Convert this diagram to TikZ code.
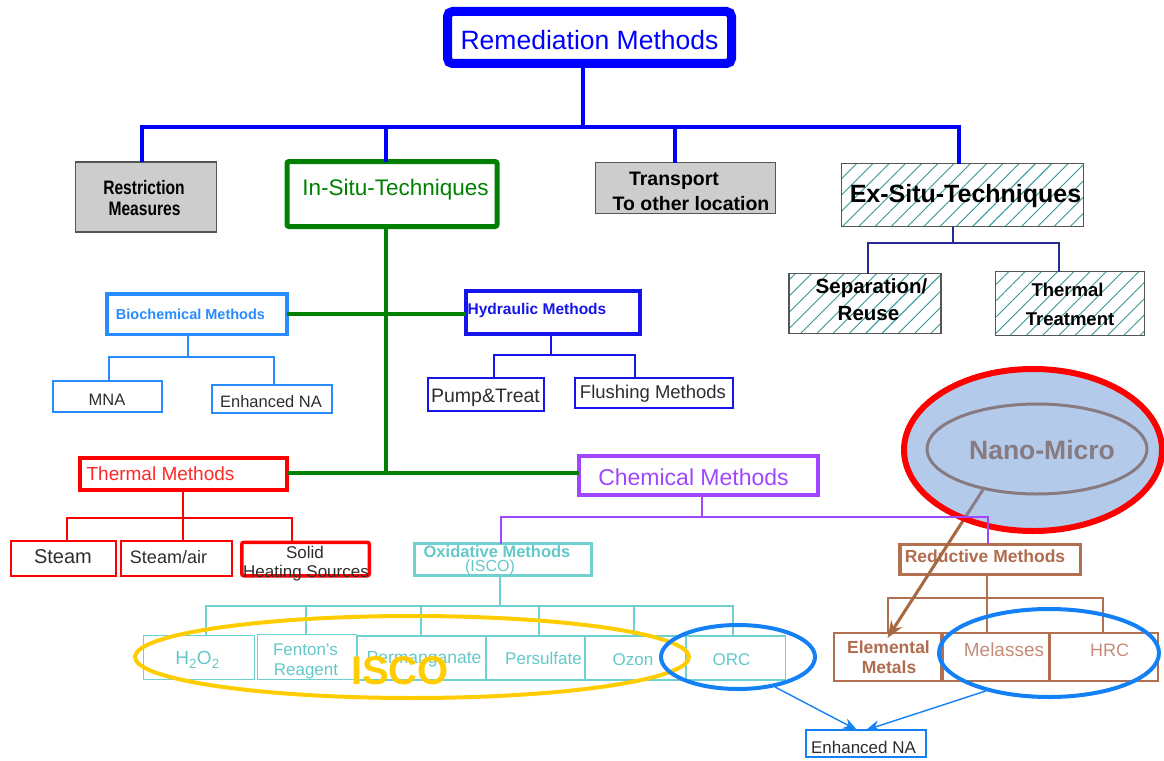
\documentclass[tikz,border=0pt]{standalone}
\usepackage{fontspec}
\setmainfont{Liberation Sans}
\usetikzlibrary{shapes.geometric,arrows.meta,patterns.meta}
\pgfdeclarelayer{fg}
\pgfsetlayers{main,fg}
\newcommand\myfs[1]{\fontsize{#1pt}{#1pt}\selectfont}
\definecolor{rootblue}{RGB}{0,0,255}
\definecolor{ingreen}{RGB}{0,128,0}
\definecolor{biocol}{RGB}{40,140,255}
\definecolor{hydblue}{RGB}{20,20,235}
\definecolor{thred}{RGB}{255,0,0}
\definecolor{thtext}{RGB}{255,40,40}
\definecolor{chpur}{RGB}{160,70,255}
\definecolor{oxteal}{RGB}{110,208,208}
\definecolor{oxtext}{RGB}{100,200,200}
\definecolor{rdbrown}{RGB}{178,112,80}
\definecolor{rdtext}{RGB}{176,108,78}
\definecolor{rdlight}{RGB}{196,140,120}
\definecolor{goldc}{RGB}{255,204,0}
\definecolor{elblue}{RGB}{20,128,245}
\definecolor{nanofill}{RGB}{105,149,213}
\definecolor{nanogray}{RGB}{135,122,128}
\definecolor{hatchc}{RGB}{50,150,150}
\definecolor{exline}{RGB}{40,40,150}
\definecolor{leaftext}{RGB}{45,45,45}
\definecolor{boxgray}{RGB}{205,205,205}
\definecolor{boxedge}{RGB}{85,85,85}
\definecolor{arrowbrown}{RGB}{165,105,65}
\tikzset{
  box/.style={draw, inner sep=0pt, outer sep=0pt},
  tx/.style={inner sep=0pt, anchor=base},
  grayfill/.style={box, draw=boxedge, line width=1.2pt, fill=boxgray},
  hatched/.style={box, draw=boxedge, line width=1.2pt,
    pattern={Lines[angle=45,distance=11.5pt,line width=0.9pt]}, pattern color=hatchc},
  ell/.style={ellipse, draw, inner sep=0pt},
  topc/.style={draw=rootblue, line width=4pt},
  gc/.style={draw=ingreen, line width=4pt},
  exc/.style={draw=exline, line width=1.2pt},
  bioc/.style={draw=biocol, line width=2pt},
  hydc/.style={draw=hydblue, line width=2pt},
  thc/.style={draw=thred, line width=1.6pt},
  chc/.style={draw=chpur, line width=2pt},
  oxc/.style={draw=oxteal, line width=1.5pt},
  rdc/.style={draw=rdbrown, line width=2pt},
  blarrow/.style={draw=elblue, line width=1.4pt, -{Stealth[length=14pt,width=11pt]}},
  brarrow/.style={draw=arrowbrown, line width=3pt, -{Stealth[length=17pt,width=13pt]}},
}
\begin{document}
\begin{tikzpicture}[x=1pt,y=-1pt]
\useasboundingbox (0,0) rectangle (1164,760);

% ---------- root ----------
\node[box, draw=rootblue, line width=9pt, rounded corners=5pt, minimum width=284pt, minimum height=52pt] (root) at (589.5,37.5) {};
\node[tx, font=\myfs{26.5}, text=rootblue] (root-t) at (589.5,49) {Remediation Methods};

% ---------- level 1 ----------
\node[grayfill, minimum width=141pt, minimum height=70pt] (restr) at (146,197) {};
\node[tx, font=\bfseries\myfs{19.5}] (restr-t1) at (144,194) {\scalebox{0.8}[1]{Restriction}};
\node[tx, font=\bfseries\myfs{19.5}] (restr-t2) at (144.5,215) {\scalebox{0.8}[1]{Measures}};

\node[box, draw=ingreen, line width=5pt, rounded corners=2pt, minimum width=210pt, minimum height=65pt] (insitu) at (392,194) {};
\node[tx, font=\myfs{22.5}, text=ingreen] (insitu-t) at (395.5,195) {In-Situ-Techniques};

\node[grayfill, minimum width=180pt, minimum height=51pt] (transport) at (685.5,188) {};
\node[tx, font=\bfseries\myfs{19.5}] (transport-t1) at (674,185.5) {Transport};
\node[tx, font=\bfseries\myfs{19.5}] (transport-t2) at (691,210.5) {To other location};

\node[hatched, minimum width=242pt, minimum height=63pt] (exsitu) at (962.5,195) {};
\node[tx, font=\bfseries\myfs{25}] (exsitu-t) at (965.5,202) {Ex-Situ-Techniques};

\node[hatched, minimum width=152pt, minimum height=60pt] (sep) at (865,303.5) {};
\node[tx, font=\bfseries\myfs{20.5}] (sep-t1) at (871.5,293) {Separation/};
\node[tx, font=\bfseries\myfs{20.5}] (sep-t2) at (868.5,320) {Reuse};

\node[hatched, minimum width=149pt, minimum height=64pt] (thtr) at (1070,303.5) {};
\node[tx, font=\bfseries\myfs{18.5}] (thtr-t1) at (1067.5,296.3) {Thermal};
\node[tx, font=\bfseries\myfs{18.5}] (thtr-t2) at (1070,325.6) {Treatment};

% ---------- top connectors ----------
\coordinate (tb0) at (583,127);
\coordinate (tb1) at (142,127);
\coordinate (tb2) at (386,127);
\coordinate (tb3) at (675,127);
\coordinate (tb4) at (959,127);
\draw[topc] (root.south -| tb0) -- (tb0);
\draw[topc] (restr.north -| tb1) -- (tb1) -- (tb4) -- (exsitu.north -| tb4);
\draw[topc] (insitu.north -| tb2) -- (tb2);
\draw[topc] (transport.north -| tb3) -- (tb3);

\coordinate (ex0) at (953,243);
\coordinate (ex1) at (868,243);
\coordinate (ex2) at (1059,243);
\draw[exc] (exsitu.south -| ex0) -- (ex0);
\draw[exc] (sep.north -| ex1) -- (ex1) -- (ex2) -- (thtr.north -| ex2);

% ---------- in-situ branches ----------
\node[box, draw=biocol, line width=3.5pt, minimum width=180pt, minimum height=40.5pt] (bio) at (197,314) {};
\node[tx, font=\bfseries\myfs{14.5}, text=biocol] (bio-t) at (190.5,319.2) {Biochemical Methods};

\node[box, draw=hydblue, line width=4pt, minimum width=174pt, minimum height=43pt] (hyd) at (553,312.5) {};
\node[tx, font=\bfseries\myfs{15.5}, text=hydblue] (hyd-t) at (537,314) {Hydraulic Methods};

\node[box, draw=biocol, line width=2pt, minimum width=109pt, minimum height=31pt] (mna) at (107,396.5) {};
\node[tx, font=\myfs{16.5}, text=leaftext] (mna-t) at (107,405.9) {MNA};
\node[box, draw=biocol, line width=2pt, minimum width=120pt, minimum height=28pt] (ena1) at (271.5,399) {};
\node[tx, font=\myfs{16.5}, text=leaftext] (ena1-t) at (271,407.9) {Enhanced NA};

\node[box, draw=hydblue, line width=2.5pt, minimum width=116pt, minimum height=33pt] (pump) at (486,394.5) {};
\node[tx, font=\myfs{19.5}, text=leaftext] (pump-t) at (485.5,402.5) {Pump\&Treat};
\node[box, draw=hydblue, line width=2.5pt, minimum width=158pt, minimum height=30pt] (flush) at (654,393) {};
\node[tx, font=\myfs{18.5}, text=leaftext] (flush-t) at (653,398.6) {Flushing Methods};

\node[box, draw=thred, line width=4pt, minimum width=207pt, minimum height=32pt] (therm) at (183,474) {};
\node[tx, font=\myfs{19}, text=thtext] (therm-t) at (160.5,480.1) {Thermal Methods};

\node[box, draw=thred, line width=2pt, minimum width=105pt, minimum height=35pt] (steam) at (63,558.5) {};
\node[tx, font=\myfs{20}, text=leaftext] (steam-t) at (63,563.9) {Steam};
\node[box, draw=thred, line width=2pt, minimum width=111pt, minimum height=35pt] (steamair) at (176.3,558.5) {};
\node[tx, font=\myfs{18}, text=leaftext] (steamair-t) at (168.5,563.1) {Steam/air};
\node[box, draw=thred, line width=3.5pt, rounded corners=2pt, minimum width=127.5pt, minimum height=33.5pt] (solid) at (305.5,559) {};
\node[tx, font=\myfs{17}, text=leaftext] (solid-t1) at (305,558.6) {Solid};
\node[tx, font=\myfs{17}, text=leaftext] (solid-t2) at (306,577.1) {Heating Sources};

\node[box, draw=chpur, line width=4pt, minimum width=239pt, minimum height=39pt] (chem) at (698.5,475.5) {};
\node[tx, font=\myfs{23}, text=chpur] (chem-t) at (693.5,485.2) {Chemical Methods};

% green connectors
\coordinate (g1) at (386,314);
\coordinate (g2) at (386,473);
\draw[gc] (insitu.south -| g1) -- (g2);
\draw[gc] (bio.east |- g1) -- (hyd.west |- g1);
\draw[gc] (therm.east |- g2) -- (chem.west |- g2);

\coordinate (b0) at (187.6,357);
\coordinate (b1) at (109,357);
\coordinate (b2) at (274,357);
\draw[bioc] (bio.south -| b0) -- (b0);
\draw[bioc] (mna.north -| b1) -- (b1) -- (b2) -- (ena1.north -| b2);

\coordinate (h0) at (551,355);
\coordinate (h1) at (494,355);
\coordinate (h2) at (635,355);
\draw[hydc] (hyd.south -| h0) -- (h0);
\draw[hydc] (pump.north -| h1) -- (h1) -- (h2) -- (flush.north -| h2);

\coordinate (t0) at (183,518);
\coordinate (t1) at (67,518);
\coordinate (t2) at (292,518);
\draw[thc] (therm.south -| t0) -- (steamair.north -| t0);
\draw[thc] (steam.north -| t1) -- (t1) -- (t2) -- (solid.north -| t2);

% ---------- chemical subtree ----------
\node[box, draw=oxteal, line width=3pt, minimum width=177pt, minimum height=32pt] (oxid) at (503,559.5) {};
\node[tx, font=\bfseries\myfs{16.5}, text=oxtext] (oxid-t1) at (497,557.9) {Oxidative Methods};
\node[tx, font=\myfs{16}, text=oxtext] (oxid-t2) at (490,571.7) {(ISCO)};

\node[box, draw=oxteal, line width=1.5pt, minimum width=111pt, minimum height=44pt] (h2o2) at (198.75,657.5) {};
\node[tx, font=\myfs{19}, text=oxtext] (h2o2-t) at (197.5,664.8) {H\textsubscript{2}O\textsubscript{2}};
\node[box, draw=oxteal, line width=1.5pt, minimum width=99pt, minimum height=45pt] (fenton) at (307,657) {};
\node[tx, font=\myfs{17}, text=oxtext] (fenton-t1) at (305.5,655.6) {Fenton's};
\node[tx, font=\myfs{17}, text=oxtext] (fenton-t2) at (306,675.1) {Reagent};
\node[box, draw=oxteal, line width=1.5pt, minimum width=128pt, minimum height=44pt] (perm) at (421.5,658) {};
\node[tx, font=\myfs{17.5}, text=oxtext] (perm-t) at (424,663.8) {Permanganate};
\node[box, draw=oxteal, line width=1.5pt, minimum width=98pt, minimum height=44pt] (pers) at (535.5,658) {};
\node[tx, font=\myfs{17}, text=oxtext] (pers-t) at (543.5,664.6) {Persulfate};
\node[box, draw=oxteal, line width=1.5pt, minimum width=100pt, minimum height=44pt] (ozon) at (635.5,658) {};
\node[tx, font=\myfs{17}, text=oxtext] (ozon-t) at (633,665.1) {Ozon};
\node[box, draw=oxteal, line width=1.5pt, minimum width=99pt, minimum height=44pt] (orc) at (736,658) {};
\node[tx, font=\myfs{17}, text=oxtext] (orc-t) at (731.5,665.1) {ORC};

\coordinate (o0) at (500,606);
\coordinate (o1) at (206,606);
\coordinate (o2) at (306,606);
\coordinate (o3) at (421,606);
\coordinate (o4) at (539,606);
\coordinate (o5) at (634,606);
\coordinate (o6) at (733,606);
\draw[oxc] (oxid.south -| o0) -- (o0);
\draw[oxc] (h2o2.north -| o1) -- (o1) -- (o6) -- (orc.north -| o6);
\draw[oxc] (fenton.north -| o2) -- (o2);
\draw[oxc] (perm.north -| o3) -- (o3);
\draw[oxc] (pers.north -| o4) -- (o4);
\draw[oxc] (ozon.north -| o5) -- (o5);

\node[box, draw=rdbrown, line width=3.5pt, minimum width=180.5pt, minimum height=30pt] (red) at (990,559.3) {};
\node[tx, font=\bfseries\myfs{17.5}, text=rdtext] (red-t) at (985,562.6) {Reductive Methods};

\node[box, draw=rdbrown, line width=2pt, minimum width=107pt, minimum height=48pt] (elem) at (887.5,657) {};
\node[tx, font=\bfseries\myfs{17.5}, text=rdtext] (elem-t1) at (888.5,653.8) {Elemental};
\node[tx, font=\bfseries\myfs{17.5}, text=rdtext] (elem-t2) at (889,673.8) {Metals};
\node[box, draw=rdbrown, line width=2pt, minimum width=106pt, minimum height=48pt] (mel) at (995.5,657) {};
\node[tx, font=\myfs{19}, text=rdlight] (mel-t) at (1004,656.8) {Melasses};
\node[box, draw=rdbrown, line width=2pt, minimum width=108pt, minimum height=48pt] (hrc) at (1104,657) {};
\node[tx, font=\myfs{18}, text=rdlight] (hrc-t) at (1109.5,656.4) {HRC};

\coordinate (r0) at (987,598);
\coordinate (r1) at (888,598);
\coordinate (r2) at (1103,598);
\draw[rdc] (red.south -| r0) -- (mel.north -| r0);
\draw[rdc] (elem.north -| r1) -- (r1) -- (r2) -- (hrc.north -| r2);

\node[box, draw=elblue, line width=2pt, minimum width=120pt, minimum height=27pt] (ena2) at (866,743.5) {};
\node[tx, font=\myfs{17}, text=leaftext] (ena2-t) at (863.5,753.1) {Enhanced NA};

% ---------- highlight ellipses ----------
\node[ell, draw=goldc, line width=4pt, minimum width=554pt, minimum height=82pt] (iscoell) at (412,657) {};
\node[tx, font=\bfseries\myfs{40}, text=goldc] (isco-t) at (400,684.3) {ISCO};
\node[ell, draw=elblue, line width=4pt, minimum width=154pt, minimum height=64pt] (orcell) at (738,657) {};
\node[ell, draw=elblue, line width=4pt, minimum width=220pt, minimum height=88pt] (melell) at (1049,653) {};

\draw[blarrow] (orcell.-39) -- ([xshift=-9pt]ena2.north);
\draw[blarrow] (melell.211) -- (ena2.north);

% ---------- Nano-Micro ----------
\begin{pgfonlayer}{fg}
\node[ell, draw=thred, line width=6pt, fill=nanofill, fill opacity=0.5, minimum width=258pt, minimum height=162pt] (nano) at (1033,450) {};
\node[ell, draw=nanogray, line width=3pt, minimum width=220pt, minimum height=90pt] (nanoin) at (1037,449) {};
\node[tx, font=\bfseries\myfs{26.5}, text=nanogray] (nano-t) at (1042,459.5) {Nano-Micro};
\coordinate (c0) at (702,517);
\coordinate (c1) at (501,517);
\coordinate (c2) at (988,517);
\draw[chc] (chem.south -| c0) -- (c0);
\draw[chc] (oxid.north -| c1) -- (c1) -- (c2) -- (red.north -| c2);
\end{pgfonlayer}

\draw[brarrow] (nanoin.217) -- ([yshift=-5pt]elem.north);
\end{tikzpicture}
\end{document}
